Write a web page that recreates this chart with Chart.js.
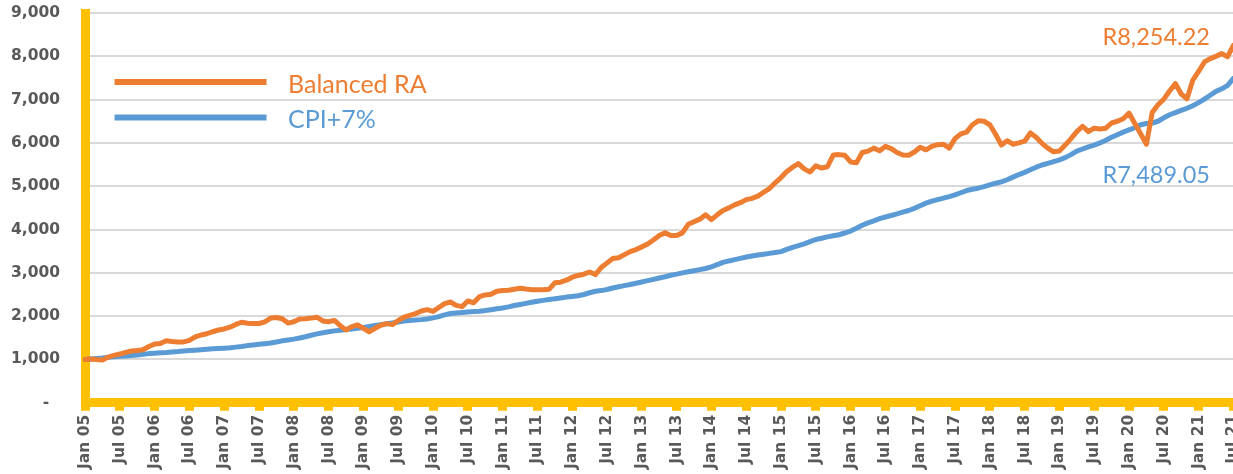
<!DOCTYPE html>
<html>
<head>
<meta charset="utf-8">
<title>Balanced RA vs CPI+7%</title>
<script src="https://cdn.jsdelivr.net/npm/chart.js@4.4.1/dist/chart.umd.min.js"></script>
<style>
    html, body { margin: 0; padding: 0; background: #fff; overflow: hidden; }
    /* the original picture is cropped on the right, so the chart is a bit wider than the window */
    #clip { position: relative; width: 1233px; height: 474px; overflow: hidden; }
    #wrap { position: absolute; left: 0; top: 0; width: 1256px; height: 473px; }
</style>
</head>
<body>
<div id="clip"><div id="wrap"><canvas id="chart"></canvas></div></div>
<script>
// ============================================
// Data
// ============================================

const MONTH_NAMES = ["Jan", "Feb", "Mar", "Apr", "May", "Jun", "Jul", "Aug", "Sep", "Oct", "Nov", "Dec"];
const FIRST_YEAR = 5;      // Jan 05
const LABEL_EVERY = 6;     // one axis label per half year

const SERIES_NAMES = ["Balanced RA", "CPI+7%"];
const END_LABELS = ["R8,254.22", "R7,489.05"];

// monthly values, Jan 05 .. Jul 21
const balancedRA = [
    1000, 1010, 1000, 985, 1055, 1095, 1125, 1165, 1195, 1205,
    1225, 1300, 1355, 1370, 1430, 1415, 1405, 1405, 1440, 1520,
    1565, 1595, 1640, 1680, 1705, 1745, 1810, 1860, 1835, 1830,
    1830, 1870, 1955, 1970, 1940, 1840, 1870, 1932, 1940, 1955,
    1975, 1890, 1870, 1902, 1780, 1680, 1760, 1800, 1720, 1640,
    1720, 1790, 1827, 1805, 1900, 1975, 2020, 2060, 2120, 2150,
    2110, 2200, 2290, 2326, 2250, 2220, 2350, 2310, 2450, 2490,
    2505, 2575, 2590, 2597, 2620, 2643, 2625, 2612, 2612, 2612,
    2620, 2770, 2785, 2830, 2900, 2940, 2969, 3020, 2960, 3123,
    3230, 3330, 3350, 3420, 3490, 3538, 3600, 3665, 3760, 3860,
    3923, 3860, 3860, 3923, 4120, 4180, 4240, 4340, 4230, 4340,
    4440, 4500, 4570, 4620, 4690, 4720, 4770, 4860, 4946, 5080,
    5200, 5340, 5440, 5523, 5400, 5330, 5470, 5420, 5450, 5720,
    5730, 5715, 5560, 5540, 5780, 5810, 5880, 5820, 5920, 5870,
    5780, 5720, 5715, 5790, 5900, 5840, 5920, 5960, 5969, 5880,
    6100, 6210, 6250, 6420, 6510, 6500, 6420, 6200, 5950, 6050,
    5970, 6000, 6040, 6230, 6130, 5990, 5880, 5795, 5815, 5950,
    6100, 6260, 6385, 6260, 6340, 6320, 6340, 6460, 6500, 6560,
    6690, 6450, 6210, 5970, 6700, 6880, 7010, 7200, 7370, 7130,
    7020, 7450, 7650, 7870, 7946, 8000, 8062, 7990, 8254.22,
];

const cpiPlus7 = [
    1000, 1012, 1025, 1035, 1050, 1062, 1072, 1082, 1092, 1105,
    1120, 1135, 1145, 1155, 1162, 1172, 1182, 1195, 1205, 1215,
    1225, 1235, 1245, 1252, 1260, 1270, 1285, 1300, 1320, 1335,
    1350, 1365, 1380, 1405, 1430, 1450, 1470, 1495, 1525, 1560,
    1590, 1615, 1640, 1660, 1675, 1690, 1705, 1720, 1740, 1760,
    1785, 1805, 1825, 1845, 1865, 1885, 1900, 1912, 1920, 1935,
    1960, 1990, 2030, 2060, 2075, 2085, 2095, 2105, 2115, 2130,
    2150, 2170, 2190, 2215, 2245, 2270, 2295, 2320, 2345, 2365,
    2385, 2400, 2420, 2440, 2455, 2470, 2500, 2540, 2575, 2590,
    2615, 2650, 2680, 2705, 2730, 2760, 2790, 2820, 2850, 2880,
    2910, 2945, 2970, 3000, 3025, 3050, 3075, 3100, 3140, 3190,
    3240, 3275, 3305, 3335, 3365, 3390, 3410, 3430, 3450, 3470,
    3490, 3540, 3590, 3630, 3670, 3720, 3770, 3800, 3830, 3855,
    3880, 3920, 3965, 4030, 4100, 4155, 4200, 4250, 4290, 4325,
    4360, 4400, 4440, 4490, 4550, 4610, 4655, 4690, 4725, 4760,
    4800, 4850, 4900, 4930, 4955, 4990, 5030, 5070, 5100, 5150,
    5210, 5270, 5320, 5380, 5440, 5490, 5530, 5570, 5610, 5660,
    5730, 5810, 5860, 5910, 5950, 6000, 6060, 6130, 6190, 6250,
    6300, 6350, 6420, 6450, 6460, 6500, 6580, 6650, 6700, 6750,
    6800, 6860, 6930, 7010, 7100, 7190, 7250, 7330, 7489.05,
];

const Y_MIN = 0;
const Y_MAX = 9000;
const Y_STEP = 1000;

// month labels "Jan 05", "Feb 05", ...
const months = balancedRA.map((_, i) => {
    const yy = String(FIRST_YEAR + Math.floor(i / 12)).padStart(2, "0");
    return `${MONTH_NAMES[i % 12]} ${yy}`;
});

// ============================================
// Styling
// ============================================

const ORANGE = "#ED7D31";
const BLUE = "#5B9BD5";
const AXIS_YELLOW = "#FFC000";
const TICK_GREY = "#595959";
const AXIS_FONT = { family: "'DejaVu Sans', sans-serif", size: 15.5, weight: "bold" };

// legend and end-of-line labels drawn inside the plot
const overlayLabels = {
    id: "overlayLabels",
    afterDatasetsDraw(chart) {
        const { ctx, chartArea } = chart;
        const legendRows = [69, 104.5];
        const endOffsets = [0, 104.5];

        ctx.save();
        ctx.font = "25px Lato, sans-serif";
        ctx.textAlign = "left";
        ctx.textBaseline = "alphabetic";
        chart.data.datasets.forEach((ds, i) => {
            const y = chartArea.top + legendRows[i];
            ctx.strokeStyle = ds.borderColor;
            ctx.lineWidth = 6;
            ctx.lineCap = "butt";
            ctx.beginPath();
            ctx.moveTo(chartArea.left + 29.5, y);
            ctx.lineTo(chartArea.left + 181.5, y);
            ctx.stroke();
            ctx.fillStyle = ds.borderColor;
            ctx.fillText(ds.label, chartArea.left + 203, y + 10.5);
        });

        ctx.font = "23.5px Lato, sans-serif";
        ctx.textAlign = "right";
        chart.data.datasets.forEach((ds, i) => {
            const meta = chart.getDatasetMeta(i);
            const last = meta.data[meta.data.length - 1];
            ctx.fillStyle = ds.borderColor;
            ctx.fillText(END_LABELS[i], last.x - 23.5, last.y + endOffsets[i]);
        });
        ctx.restore();
    },
};

// ============================================
// Chart
// ============================================

const ctx = document.getElementById("chart").getContext("2d");

new Chart(ctx, {
    type: "line",
    data: {
        labels: months,
        datasets: [
            {
                label: SERIES_NAMES[0],
                data: balancedRA,
                borderColor: ORANGE,
                backgroundColor: ORANGE,
            },
            {
                label: SERIES_NAMES[1],
                data: cpiPlus7,
                borderColor: BLUE,
                backgroundColor: BLUE,
            },
        ],
    },
    options: {
        responsive: true,
        maintainAspectRatio: false,
        animation: false,
        layout: {
            padding: { left: 11, top: 13, right: 0, bottom: 0 },
        },
        elements: {
            point: { radius: 0 },
            line: {
                borderWidth: 5,
                tension: 0,
                borderJoinStyle: "round",
                borderCapStyle: "round",
                fill: false,
            },
        },
        plugins: {
            legend: { display: false },
            tooltip: { enabled: false },
        },
        scales: {
            x: {
                type: "category",
                offset: false,
                afterBuildTicks: (axis) => {
                    axis.ticks = axis.ticks.filter((t) => t.value % LABEL_EVERY === 0);
                },
                grid: {
                    drawOnChartArea: false,
                    drawTicks: true,
                    tickLength: 8,
                    tickWidth: 9,
                    tickColor: AXIS_YELLOW,
                },
                border: { display: true, color: AXIS_YELLOW, width: 9 },
                ticks: {
                    autoSkip: false,
                    minRotation: 90,
                    maxRotation: 90,
                    padding: 4,
                    color: TICK_GREY,
                    font: AXIS_FONT,
                },
            },
            y: {
                min: Y_MIN,
                max: Y_MAX,
                grid: {
                    color: "#D9D9D9",
                    lineWidth: 2,
                    drawTicks: true,
                    tickLength: 25,          // blank gap between labels and the axis
                    tickColor: "rgba(0,0,0,0)",
                },
                border: { display: true, color: AXIS_YELLOW, width: 9 },
                ticks: {
                    stepSize: Y_STEP,
                    padding: 0,
                    color: TICK_GREY,
                    font: AXIS_FONT,
                    callback: (value) => (value === 0 ? "-  " : value.toLocaleString("en-US")),
                },
            },
        },
    },
    plugins: [overlayLabels],
});
</script>
</body>
</html>
